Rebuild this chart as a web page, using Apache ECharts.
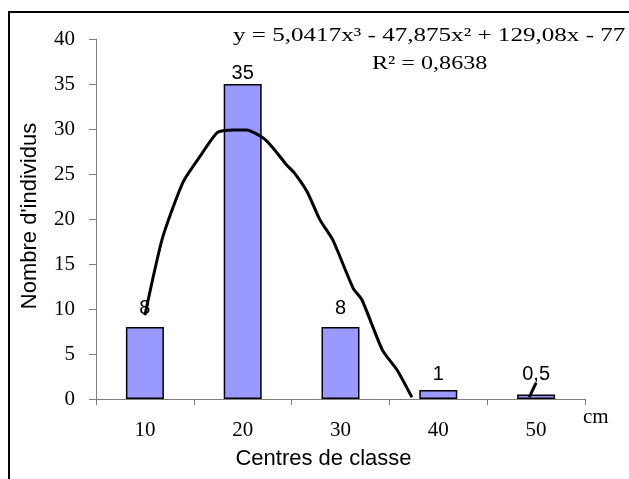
<!DOCTYPE html>
<html>
<head>
<meta charset="utf-8">
<script src="https://cdn.jsdelivr.net/npm/echarts@6/dist/echarts.min.js"></script>
<style>
html,body{margin:0;padding:0;background:#fff;}
#chart{width:629px;height:479px;}
</style>
</head>
<body>
<div id="chart"></div>
<script>
// ---- data ----
var categories = ['10', '20', '30', '40', '50'];
var counts = [8, 35, 8, 1, 0.5];
var yMin = 0, yMax = 40, yStep = 5;
// trend curve (x = class index 1..5, y = individuals); null = gap
var trendX = [1.00, 1.18, 1.39, 1.56, 1.74, 1.90, 2.04, 2.21, 2.31, 2.45, 2.53, 2.66, 2.79, 2.92, 3.13, 3.22, 3.43, 3.58, 3.73, 3.74, 4.93, 5.00];
var trendY = [9.3, 17.9, 24.1, 26.9, 29.6, 29.9, 29.9, 29.0, 27.9, 26.0, 25.1, 23.0, 19.9, 17.7, 12.3, 11.0, 5.4, 3.2, 0.2, null, 0.2, 1.8];
var equationText = 'y = 5,0417x\u00B3 - 47,875x\u00B2 + 129,08x - 77';
var r2Text = 'R\u00B2 = 0,8638';
var xTitle = 'Centres de classe';
var yTitle = "Nombre d'individus";
var unitText = 'cm';

// ---- styling (not data) ----
var labelDist = [9, 1, 9, 6, 10];
var serif = 'Liberation Serif, Times New Roman, serif';
var sans = 'Liberation Sans, Arial, sans-serif';

var barData = counts.map(function (v, i) {
  return { value: v, label: { distance: labelDist[i] } };
});
var lineData = trendX.map(function (x, i) {
  return trendY[i] === null ? [x, null] : [x, trendY[i]];
});

var chart = echarts.init(document.getElementById('chart'), null, { renderer: 'canvas' });
chart.setOption({
  animation: false,
  backgroundColor: '#ffffff',
  grid: { left: 96, right: 44, top: 39, bottom: 80, containLabel: false },
  xAxis: [{
    type: 'category',
    data: categories,
    boundaryGap: true,
    axisLine: { lineStyle: { color: '#808080', width: 1 } },
    axisTick: { show: true, length: 6, inside: false, lineStyle: { color: '#808080' } },
    axisLabel: { color: '#000', fontFamily: serif, fontSize: 21, margin: 21 },
    splitLine: { show: false }
  }, {
    type: 'value',
    min: 0.5, max: 5.5,
    show: false
  }],
  yAxis: {
    type: 'value',
    min: yMin, max: yMax, interval: yStep,
    axisLine: { show: true, lineStyle: { color: '#808080', width: 1 } },
    axisTick: { show: true, length: 7, inside: false, lineStyle: { color: '#808080' } },
    axisLabel: { color: '#000', fontFamily: serif, fontSize: 21, margin: 21 },
    splitLine: { show: false }
  },
  series: [{
    type: 'bar',
    xAxisIndex: 0,
    data: barData,
    barWidth: 38,
    itemStyle: { color: '#9999FF', borderColor: '#000', borderWidth: 1.5 },
    label: {
      show: true, position: 'top', color: '#000',
      fontFamily: sans, fontSize: 20,
      formatter: function (p) { return String(p.value).replace('.', ','); }
    },
    z: 2
  }, {
    type: 'line',
    xAxisIndex: 1,
    data: lineData,
    showSymbol: false,
    symbol: 'none',
    smooth: 0.2,
    connectNulls: false,
    clip: true,
    lineStyle: { color: '#000', width: 3 },
    z: 3
  }],
  graphic: [
    { type: 'rect', shape: { x: 9, y: 12, width: 700, height: 600 },
      style: { fill: 'none', stroke: '#000', lineWidth: 2 }, silent: true, z: 10 },
    { type: 'text', x: 233, y: 36, scaleX: 1.32, scaleY: 1,
      style: { text: equationText, font: '19px ' + serif, fill: '#000', textAlign: 'left', textVerticalAlign: 'middle' } },
    { type: 'text', x: 372, y: 64, scaleX: 1.27, scaleY: 1,
      style: { text: r2Text, font: '19px ' + serif, fill: '#000', textAlign: 'left', textVerticalAlign: 'middle' } },
    { type: 'text', x: 583, y: 417,
      style: { text: unitText, font: '21px ' + serif, fill: '#000', textAlign: 'left', textVerticalAlign: 'middle' } },
    { type: 'text', x: 323.5, y: 459,
      style: { text: xTitle, font: '22px ' + sans, fill: '#000', textAlign: 'center', textVerticalAlign: 'middle' } },
    { type: 'text', x: 30, y: 216, rotation: Math.PI / 2,
      style: { text: yTitle, font: '22px ' + sans, fill: '#000', textAlign: 'center', textVerticalAlign: 'middle' } }
  ]
});
</script>
</body>
</html>
